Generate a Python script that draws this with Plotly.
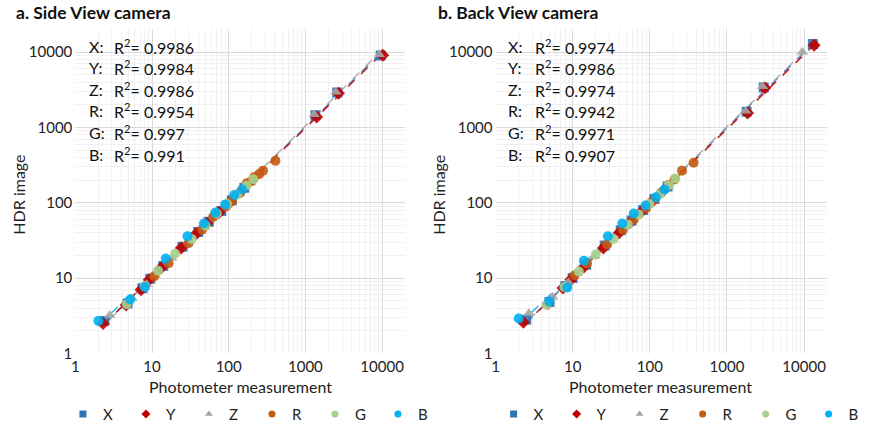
import numpy as np
import plotly.graph_objects as go

# ---------------- data ----------------
SERIES = ["X", "Y", "Z", "R", "G", "B"]
COLORS = ["#2E75B6", "#C00000", "#A5A5A5", "#C55A11", "#A9D18E", "#00B0F0"]
SYMBOLS = ["square", "diamond", "triangle-up", "circle", "circle", "circle"]

TICK_VALS = [1, 10, 100, 1000, 10000]
TICK_TEXT = ["1", "10", "100", "1000", "10000"]

# Side view camera (panel a)
SIDE_X_MEAS = [2.4, 4.8, 7.5, 9.5, 14, 25, 40, 55, 80, 110, 160, 1350, 2600, 9600]
SIDE_X_HDR = [2.7, 4.6, 7.3, 9.8, 14.5, 26, 41, 56, 78, 108, 158, 1450, 2900, 9000]
SIDE_Y_MEAS = [2.3, 4.6, 7.2, 9.2, 13, 24, 38, 52, 75, 105, 150, 1400, 2700, 10200]
SIDE_Y_HDR = [2.5, 4.4, 7.0, 9.5, 13.5, 25, 39, 53, 74, 103, 148, 1380, 2850, 9100]
SIDE_Z_MEAS = [2.8, 5.5, 8.5, 11, 18, 30, 48, 65, 95, 130, 190, 1300, 2500, 9200]
SIDE_Z_HDR = [3.2, 5.4, 8.3, 11, 18.5, 31, 47, 66, 92, 128, 185, 1480, 2950, 9300]
SIDE_R_MEAS = [10.7, 16.5, 30, 45, 63, 92, 110, 140, 172, 200, 216, 250, 280, 407]
SIDE_R_HDR = [10.6, 15.7, 29, 44, 65, 89, 105, 135, 181, 195, 219, 240, 267, 361]
SIDE_G_MEAS = [4.7, 8, 12, 20, 33, 50, 70, 95, 130, 170, 210]
SIDE_G_HDR = [4.5, 7.8, 12.5, 21, 33, 50, 72, 96, 128, 168, 205]
SIDE_B_MEAS = [2.0, 5.2, 8.1, 15.1, 29, 47.6, 67, 90, 118, 150]
SIDE_B_HDR = [2.7, 5.2, 7.6, 18.2, 36, 53, 74, 95, 127, 150]
SIDE_R2 = ["0.9986", "0.9984", "0.9986", "0.9954", "0.997", "0.991"]

# Back view camera (panel b)
BACK_X_MEAS = [2.5, 5, 8, 10, 15, 26, 42, 58, 82, 115, 170, 1800, 3000, 13000]
BACK_X_HDR = [2.8, 4.8, 7.8, 10, 15, 27, 43, 58, 80, 112, 165, 1620, 3400, 12800]
BACK_Y_MEAS = [2.3, 4.8, 7.5, 9.5, 14, 25, 40, 55, 78, 108, 160, 1850, 3100, 13500]
BACK_Y_HDR = [2.6, 4.6, 7.4, 9.6, 14, 25, 40, 54, 76, 105, 155, 1560, 3350, 12300]
BACK_Z_MEAS = [2.7, 5.5, 8.8, 11.5, 19, 32, 50, 68, 98, 135, 195, 1750, 2900, 9500]
BACK_Z_HDR = [3.4, 5.6, 8.8, 11.5, 19.5, 33, 50, 68, 95, 130, 190, 1650, 3500, 10000]
BACK_R_MEAS = [10.6, 15.3, 28, 45, 62, 90, 115, 140, 175, 210, 262, 370]
BACK_R_HDR = [10.9, 15.6, 28, 44, 60, 85, 110, 136, 172, 205, 267, 340]
BACK_G_MEAS = [4.6, 7.8, 12, 20, 34, 52, 72, 98, 135, 175, 215]
BACK_G_HDR = [4.4, 7.6, 12.2, 20.5, 33, 51, 70, 96, 130, 170, 210]
BACK_B_MEAS = [2.0, 5.0, 8.5, 14, 28.6, 44, 62, 88, 120, 155]
BACK_B_HDR = [2.9, 4.9, 7.5, 17, 36, 53, 72, 92, 118, 150]
BACK_R2 = ["0.9974", "0.9986", "0.9974", "0.9942", "0.9971", "0.9907"]

SIDE = [(SIDE_X_MEAS, SIDE_X_HDR), (SIDE_Y_MEAS, SIDE_Y_HDR), (SIDE_Z_MEAS, SIDE_Z_HDR),
        (SIDE_R_MEAS, SIDE_R_HDR), (SIDE_G_MEAS, SIDE_G_HDR), (SIDE_B_MEAS, SIDE_B_HDR)]
BACK = [(BACK_X_MEAS, BACK_X_HDR), (BACK_Y_MEAS, BACK_Y_HDR), (BACK_Z_MEAS, BACK_Z_HDR),
        (BACK_R_MEAS, BACK_R_HDR), (BACK_G_MEAS, BACK_G_HDR), (BACK_B_MEAS, BACK_B_HDR)]

FONT = "Lato"
W, H = 872, 436

fig = go.Figure()


def add_panel(data, xa, ya, legend):
    # power trend lines (fit in log space) drawn first
    for (mx, hy), col in zip(data, COLORS):
        lx, ly = np.log10(mx), np.log10(hy)
        b, a = np.polyfit(lx, ly, 1)
        xs = np.array([min(mx), max(mx)])
        ys = 10 ** (a + b * np.log10(xs))
        fig.add_trace(go.Scatter(x=xs, y=ys, mode="lines", xaxis=xa, yaxis=ya,
                                 line=dict(color=col, width=1.5, dash="dash"),
                                 showlegend=False, hoverinfo="skip", opacity=0.85))
    for (mx, hy), name, col, sym in zip(data, SERIES, COLORS, SYMBOLS):
        fig.add_trace(go.Scatter(x=mx, y=hy, mode="markers", name=name, xaxis=xa, yaxis=ya,
                                 showlegend=False,
                                 marker=dict(color=col, symbol=sym, size=10, opacity=0.9)))
    # legend entries (small symbols, as in the reference legend)
    for name, col, sym in zip(SERIES, COLORS, SYMBOLS):
        fig.add_trace(go.Scatter(x=[None], y=[None], mode="markers", name=name, xaxis=xa, yaxis=ya,
                                 legend=legend, hoverinfo="skip",
                                 marker=dict(color=col, symbol=sym, size=7)))


add_panel(SIDE, "x", "y", "legend")
add_panel(BACK, "x2", "y2", "legend2")

RANGE = [0, np.log10(20000)]
axis_common = dict(type="log", range=RANGE, tickvals=TICK_VALS, ticktext=TICK_TEXT,
                   showgrid=True, gridcolor="#DADADA", gridwidth=1, zeroline=False,
                   showline=False, ticks="", tickfont=dict(family=FONT, size=15, color="#222"),
                   minor=dict(dtick="D1", showgrid=True, gridcolor="#F1F1F1", gridwidth=1))

y_dom = [(H - 360) / H, (H - 30) / H]
leg_common = dict(orientation="h", y=(H - 422) / H, xanchor="left", yanchor="middle",
                  entrywidth=18, entrywidthmode="pixels", font=dict(family=FONT, size=15, color="#222"),
                  bgcolor="rgba(0,0,0,0)", tracegroupgap=0)
fig.update_layout(
    width=W, height=H, margin=dict(l=0, r=0, t=0, b=0),
    paper_bgcolor="white", plot_bgcolor="white",
    font=dict(family=FONT, size=15, color="#222"),
    xaxis=dict(domain=[75 / W, 422 / W], anchor="y", ticklabelstandoff=3, **axis_common),
    yaxis=dict(domain=y_dom, anchor="x", ticklabelstandoff=2, **axis_common),
    xaxis2=dict(domain=[517 / W, 866 / W], anchor="y2", ticklabelstandoff=3, **axis_common),
    yaxis2=dict(domain=y_dom, anchor="x2", ticklabelstandoff=2, **axis_common),
    legend=dict(x=62 / W, **leg_common),
    legend2=dict(x=515 / W, **leg_common),
)

ann = []
for title, x0 in [("a. Side View camera", 11), ("b. Back View camera", 454)]:
    ann.append(dict(text="<b>" + title + "</b>", x=x0 / W, y=(H - 13) / H, xref="paper", yref="paper",
                    xanchor="left", yanchor="middle", showarrow=False,
                    font=dict(family=FONT, size=17.5, color="#111")))
for xc in [15, 457]:
    ann.append(dict(text="HDR image", x=xc / W, y=(H - 198) / H, xref="paper", yref="paper",
                    textangle=-90, showarrow=False, xanchor="center", yanchor="middle",
                    font=dict(family=FONT, size=16, color="#222")))
for xc in [249, 691]:
    ann.append(dict(text="Photometer measurement", x=xc / W, y=(H - 394) / H, xref="paper", yref="paper",
                    showarrow=False, xanchor="center", yanchor="middle",
                    font=dict(family=FONT, size=16, color="#222")))
for r2list, xl, xr in [(SIDE_R2, 87, 114), (BACK_R2, 528, 556)]:
    for i, (name, val) in enumerate(zip(SERIES, r2list)):
        yy = 47 + i * 22
        ann.append(dict(text=name + ":", x=xl / W, y=(H - yy) / H, xref="paper", yref="paper",
                        showarrow=False, xanchor="left", yanchor="middle",
                        font=dict(family=FONT, size=16, color="#111")))
        ann.append(dict(text="R<sup>2</sup>= " + val, x=xr / W, y=(H - yy) / H, xref="paper", yref="paper",
                        showarrow=False, xanchor="left", yanchor="middle",
                        font=dict(family=FONT, size=16, color="#111")))
fig.update_layout(annotations=ann)

fig.write_html("out.html", config={"displayModeBar": False},
               post_script="document.body.style.margin='0';document.body.style.overflow='hidden';")
